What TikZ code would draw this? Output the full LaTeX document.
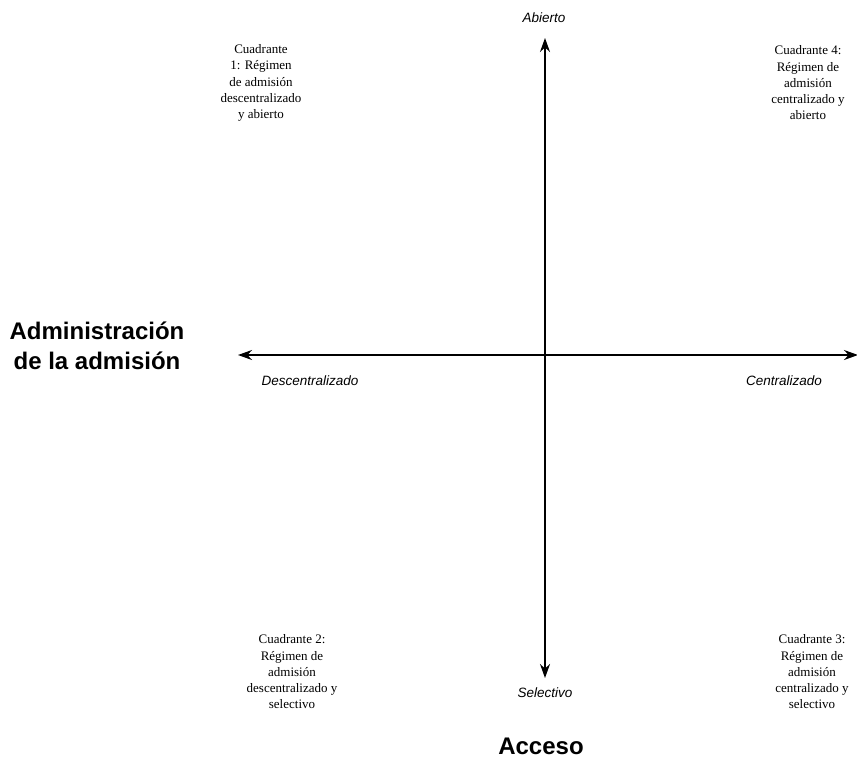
\documentclass[tikz,border=0pt]{standalone}
\usepackage{fontspec}
\setmainfont{Liberation Serif}
\setsansfont{Liberation Sans}
\usetikzlibrary{positioning}
\usetikzlibrary{arrows.meta}

\begin{document}
\begin{tikzpicture}[x=1pt,y=-1pt,
  quad/.style={align=center,font=\fontsize{13}{16.25}\selectfont,inner sep=0pt},
  pole/.style={font=\sffamily\itshape\fontsize{13.5}{16}\selectfont,inner sep=0pt},
  title/.style={align=center,font=\sffamily\bfseries\fontsize{24}{30}\selectfont,inner sep=0pt},
  axis/.style={line width=1.5pt,{Stealth[length=14pt,width=10pt]}-{Stealth[length=14pt,width=10pt]}}]
\useasboundingbox (0,0) rectangle (857,758);
% axes
\coordinate (top) at (545,38);
\coordinate (bottom) at (545,678);
\coordinate (left) at (238,355);
\coordinate (right) at (858,355);
\draw[axis] (top) -- (bottom);
\draw[axis] (left) -- (right);
% poles
\node[pole] (abierto) at (544,18) {Abierto};
\node[pole] (selectivo) at (545,693) {Selectivo};
\node[pole] (descentr) at (310,381) {Descentralizado};
\node[pole] (centr) at (784,381) {Centralizado};
% titles
\node[title] (admin) at (97,346) {Administración\\de la admisión};
\node[title] (acceso) at (541,746) {Acceso};
% quadrants
\node[quad] (q1) at (261,83) {Cuadrante\\1: Régimen\\de admisión\\descentralizado\\y abierto};
\node[quad] (q4) at (808,83) {Cuadrante 4:\\Régimen de\\admisión\\centralizado y\\abierto};
\node[quad] (q2) at (292,672) {Cuadrante 2:\\Régimen de\\admisión\\descentralizado y\\selectivo};
\node[quad] (q3) at (812,672) {Cuadrante 3:\\Régimen de\\admisión\\centralizado y\\selectivo};
\end{tikzpicture}
\end{document}
